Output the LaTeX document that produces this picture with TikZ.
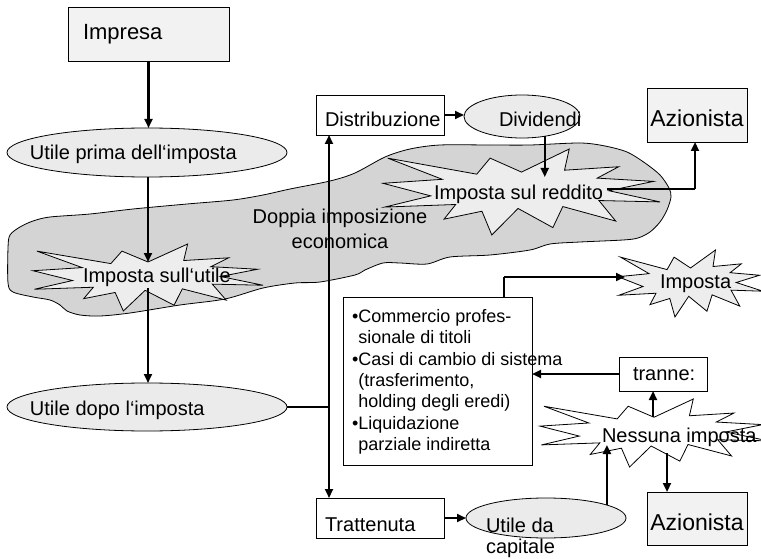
\documentclass[tikz,border=0pt]{standalone}
\usepackage{fontspec}
\setmainfont{Liberation Sans}
\usetikzlibrary{arrows.meta,shapes.geometric}
\definecolor{boxfill}{HTML}{F2F2F2}
\definecolor{ellfill}{HTML}{EBEBEB}
\definecolor{starfill}{HTML}{EDEDED}
\definecolor{cloudfill}{HTML}{D4D4D4}
\newcommand{\burstshape}[5]{%
  \filldraw[fill=#5, draw=black, line width=0.8pt, shift={(#1,#2)}, xscale=#3, yscale=#4]
  (50,26.85) -- (67.23,0) -- (65.53,24.65) -- (85.09,20.63) -- (77.32,33.87) -- (97.67,37.67) -- (81.51,48.50) -- (100,61.53) -- (77.95,59.92) -- (84.00,83.77) -- (64.91,66.93) -- (61.33,91.38) -- (48.76,69.14) -- (39.28,100) -- (35.72,72.35) -- (22.05,81.56) -- (26.24,64.52) -- (0.63,67.53) -- (17.23,54.51) -- (0,39.88) -- (21.42,35.26) -- (1.71,10.63) -- (33.85,29.26) -- (38.67,10.63) -- cycle;}
\begin{document}
\begin{tikzpicture}[x=1pt,y=-1pt,
  every node/.style={inner sep=0pt, outer sep=0pt},
  shapebox/.style={draw=black, line width=0.8pt, rectangle},
  shapeell/.style={draw=black, line width=0.8pt, ellipse, fill=ellfill},
  lbl/.style={font=\fontsize{20}{24}\selectfont, anchor=base west},
  biglbl/.style={font=\fontsize{23}{27}\selectfont, anchor=base},
  smalllbl/.style={font=\fontsize{18}{21}\selectfont, anchor=base west},
  arr/.style={line width=2.2pt, -{Triangle[length=9pt,width=8pt]}},
  darr/.style={line width=2.2pt, {Triangle[length=9pt,width=8pt]}-{Triangle[length=9pt,width=8pt]}},
  thinline/.style={line width=1.1pt}]
\useasboundingbox (0,0) rectangle (761,559);
\clip (0,0) rectangle (761,559);
\fill[white] (0,0) rectangle (761,559);

% cloud
\filldraw[fill=cloudfill, draw=black, line width=0.8pt] plot[smooth cycle, tension=0.5] coordinates {
 (10,235) (20,227) (33,221) (50,217) (90,214) (133,209) (187,204) (233,200) (263,195) (290,189)
 (330,181) (355,173) (385,157) (410,149) (440,145) (490,145) (530,145) (580,143) (605,146) (627,152)
 (645,163) (660,175) (669,188) (671,197) (667,210) (660,222) (650,232) (638,238) (623,240) (580,242)
 (550,244) (530,250) (490,255) (450,257) (427,264) (400,263) (383,263) (365,270) (355,275) (320,282)
 (295,283) (263,288) (225,299) (180,305) (130,313) (100,316) (80,315) (67,311) (60,305) (50,300)
 (33,297) (13,292) (8,283) (8,248)};
\node[anchor=base, font=\fontsize{20}{24}\selectfont] (tdoppia1) at (340,224) {Doppia imposizione};
\node[anchor=base, font=\fontsize{20}{24}\selectfont] (tdoppia2) at (340,248) {economica};

% stars
\burstshape{33}{244}{2.30}{0.67}{starfill}
\burstshape{383}{149}{2.77}{0.86}{starfill}
\burstshape{618}{250}{1.45}{0.67}{starfill}
\burstshape{540}{399}{2.28}{0.68}{white}

% boxes and ellipses
\node[shapebox, fill=boxfill, minimum width=161, minimum height=54] (impresa) at (148.5,34) {};
\node[shapeell, minimum width=280, minimum height=49] (ellprima) at (147,152.5) {};
\node[shapeell, minimum width=280, minimum height=48] (elldopo) at (147,407) {};
\node[shapebox, fill=white, minimum width=128, minimum height=40] (distrib) at (380,115) {};
\node[shapeell, minimum width=116, minimum height=43] (divid) at (522,116.5) {};
\node[shapebox, fill=boxfill, minimum width=100, minimum height=54] (aztop) at (697,115) {};
\node[shapebox, fill=white, minimum width=189, minimum height=168] (bullets) at (437.5,381) {};
\node[shapebox, fill=white, minimum width=88, minimum height=34] (tranne) at (663,374) {};
\node[shapebox, fill=white, minimum width=128, minimum height=40] (tratt) at (380,518) {};
\node[shapeell, minimum width=160, minimum height=40] (ellcap) at (546,518) {};
\node[shapebox, fill=boxfill, minimum width=100, minimum height=53] (azbot) at (697,518.5) {};

% texts
\node[lbl, font=\fontsize{22}{26}\selectfont] (timpresa) at (83,40) {Impresa};
\node[lbl] (tprima) at (30,160) {Utile prima dell‘imposta};
\node[lbl] (tdopo) at (30,415) {Utile dopo l‘imposta};
\node[lbl] (tsull) at (83,282) {Imposta sull‘utile};
\node[lbl] (tdistrib) at (325,127) {Distribuzione};
\node[lbl] (tdivid) at (499,127) {Dividendi};
\node[biglbl] (taztop) at (697,127) {Azionista};
\node[lbl] (treddito) at (434,200) {Imposta sul reddito};
\node[lbl] (timposta) at (660,288) {Imposta};
\node[smalllbl] (bl1) at (352,322.5) {•Commercio profes-};
\node[smalllbl] (bl2) at (352,343.9) {\hphantom{•}sionale di titoli};
\node[smalllbl] (bl3) at (352,365.2) {•Casi di cambio di sistema};
\node[smalllbl] (bl4) at (352,386.6) {\hphantom{•}(trasferimento,};
\node[smalllbl] (bl5) at (352,407.9) {\hphantom{•}holding degli eredi)};
\node[smalllbl] (bl6) at (352,429.3) {•Liquidazione};
\node[smalllbl] (bl7) at (352,450.6) {\hphantom{•}parziale indiretta};
\node[lbl] (ttranne) at (633,380) {tranne:};
\node[lbl] (tnessuna) at (602,442) {Nessuna imposta};
\node[lbl] (ttratt) at (325,531) {Trattenuta};
\node[lbl] (tutile1) at (486,532) {Utile da};
\node[lbl] (tutile2) at (486,553) {capitale};
\node[biglbl] (tazbot) at (697,530) {Azionista};

% connector points
\coordinate (s1in) at (148,262);
\coordinate (s1out) at (148,288);
\coordinate (vmid) at (329,407);
\coordinate (s2in) at (545,177);
\coordinate (s2out) at (607,189);
\coordinate (azcorner) at (695,189);
\coordinate (bcorner) at (504,277);
\coordinate (s3in) at (625,277);
\coordinate (s4top) at (653,417);
\coordinate (s4bot) at (667,453);
\coordinate (s4in) at (606,445);

% connectors
\draw[arr] (impresa.south) -- (impresa.south |- ellprima.north);
\draw[arr] (s1in |- ellprima.south) -- (s1in);
\draw[arr] (s1out) -- (s1out |- elldopo.north);
\draw[thinline] (elldopo.east) -- (vmid);
\draw[darr] (vmid |- distrib.south) -- (vmid |- tratt.north);
\draw[arr] (distrib.east) -- (distrib.east -| divid.west);
\draw[arr] (divid.-41) -- (divid.-41 |- s2in);
\draw[thinline] (s2out) -- (azcorner);
\draw[arr] (azcorner) -- (azcorner |- aztop.south);
\draw[thinline] (bcorner |- bullets.north) -- (bcorner);
\draw[arr] (bcorner) -- (s3in);
\draw[arr] (tranne.west) -- (tranne.west -| bullets.east);
\draw[arr] (s4top) -- (s4top |- tranne.south);
\draw[arr] (s4bot) -- (s4bot |- azbot.north);
\draw[arr] (tratt.east) -- (ellcap.west);
\draw[arr] (ellcap.12) -- (ellcap.12 |- s4in);
\end{tikzpicture}
\end{document}
